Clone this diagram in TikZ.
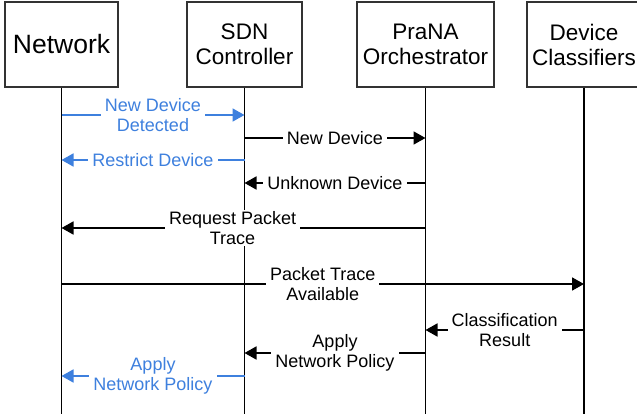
\documentclass[tikz,border=0pt]{standalone}
\usepackage{fontspec}
\setmainfont{Liberation Sans}
\usetikzlibrary{arrows.meta}
\definecolor{msgblue}{RGB}{62,128,222}
\tikzset{
  actor/.style={draw=black!80,line width=1.6pt,minimum height=85pt,inner sep=0pt,align=center,font=\fontsize{22.5}{25}\selectfont},
  life/.style={line width=1.8pt},
  msg/.style={line width=1.8pt,-{Triangle[length=12pt,width=13pt]}},
  bluemsg/.style={msg,msgblue},
  lbl/.style={fill=white,inner xsep=4pt,inner ysep=1pt,align=center,font=\fontsize{18}{20}\selectfont}
}
\begin{document}
\begin{tikzpicture}[x=1pt,y=-1pt]
\useasboundingbox (0,0) rectangle (637,414);
% participants
\node [actor,minimum width=113pt,font=\fontsize{26.5}{30}\selectfont] (net) at (61.5,44.5) {Network};
\node [actor,minimum width=115pt] (sdn) at (244.5,44.5) {SDN\\Controller};
\node [actor,minimum width=137pt] (orch) at (425.5,44.5) {PraNA\\Orchestrator};
\node [actor,minimum width=114pt] (cls) at (584,44.5) {Device\\Classifiers};
\coordinate (bottom) at (0,416);
% lifelines
\draw [life] (net.south) -- (net |- bottom);
\draw [life] (sdn.south) -- (sdn |- bottom);
\draw [life] (orch.south) -- (orch |- bottom);
\draw [life] (cls.south) -- (cls |- bottom);
% messages
\coordinate (m1) at (0,115); \coordinate (m2) at (0,138); \coordinate (m3) at (0,160);
\coordinate (m4) at (0,183); \coordinate (m5) at (0,228); \coordinate (m6) at (0,284);
\coordinate (m7) at (0,330); \coordinate (m8) at (0,353); \coordinate (m9) at (0,376);
\draw [bluemsg] (net |- m1) -- node [lbl,text=msgblue] (l1) {New Device\\Detected} (sdn |- m1);
\draw [msg] (sdn |- m2) -- node [lbl] (l2) {New Device} (orch |- m2);
\draw [bluemsg] (sdn |- m3) -- node [lbl,text=msgblue] (l3) {Restrict Device} (net |- m3);
\draw [msg] (orch |- m4) -- node [lbl] (l4) {Unknown Device} (sdn |- m4);
\draw [msg] (orch |- m5) -- node [lbl,pos=.53] (l5) {Request Packet\\Trace} (net |- m5);
\draw [msg] (net |- m6) -- node [lbl] (l6) {Packet Trace\\Available} (cls |- m6);
\draw [msg] (cls |- m7) -- node [lbl] (l7) {Classification\\Result} (orch |- m7);
\draw [msg] (orch |- m8) -- node [lbl] (l8) {Apply\\Network Policy} (sdn |- m8);
\draw [bluemsg] (sdn |- m9) -- node [lbl,text=msgblue] (l9) {Apply\\Network Policy} (net |- m9);
\end{tikzpicture}
\end{document}
